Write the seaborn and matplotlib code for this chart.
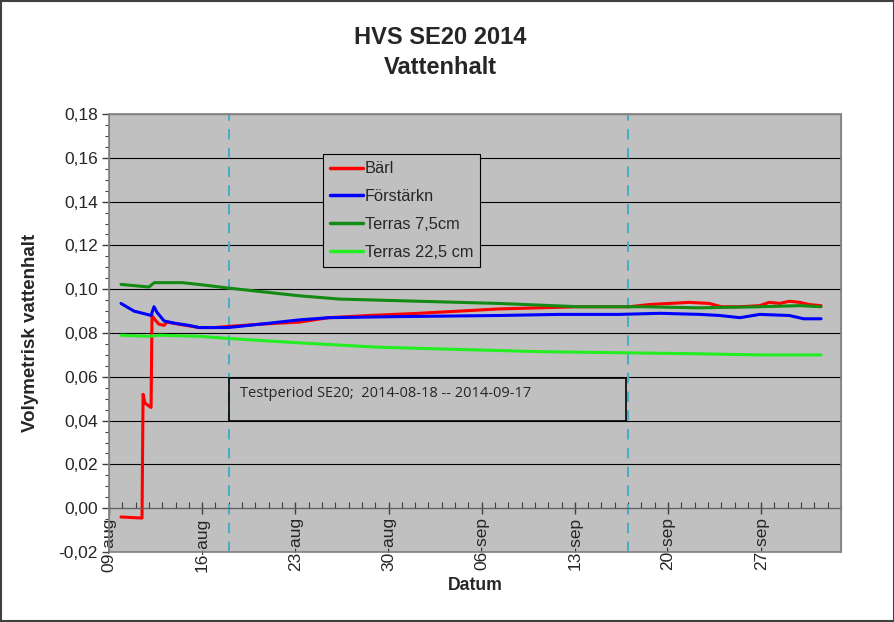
import numpy as np
import pandas as pd
import matplotlib
matplotlib.use("Agg")
import matplotlib.pyplot as plt
import matplotlib.dates as mdates
from matplotlib.patches import Rectangle
import seaborn as sns

# ---------- data (days after 2014-08-09, volumetric water content) ----------
START = pd.Timestamp("2014-08-09")

barl_days = [0.9, 2.48, 2.56, 2.7, 3.16, 3.23, 3.46, 3.76, 4.14, 4.36, 5.26, 6.77, 7.9,
             8.95, 11.3, 14.3, 16.5, 19.5, 23.3, 26.3, 29.3, 32.3, 35.3, 39.1, 40.6,
             43.6, 45.1, 46.0, 47.4, 48.9, 49.6, 50.4, 51.1, 51.9, 52.6, 53.5]
barl_vals = [-0.004, -0.0045, 0.052, 0.048, 0.046, 0.088, 0.086, 0.084, 0.0835, 0.085,
             0.084, 0.0825, 0.0825, 0.083, 0.084, 0.085, 0.087, 0.088, 0.089, 0.090,
             0.091, 0.0915, 0.092, 0.092, 0.093, 0.094, 0.0935, 0.092, 0.092, 0.0925,
             0.094, 0.0935, 0.0945, 0.094, 0.093, 0.0925]

forst_days = [0.9, 1.88, 2.86, 3.16, 3.38, 3.6, 4.14, 4.9, 6.0, 6.77, 8.95, 11.3, 14.3,
              16.5, 21.8, 29.3, 33.8, 38.3, 41.4, 44.4, 45.9, 47.4, 48.9, 51.1, 52.2, 53.5]
forst_vals = [0.0935, 0.090, 0.0885, 0.088, 0.092, 0.0895, 0.0855, 0.0845, 0.0835, 0.0825,
              0.0825, 0.084, 0.086, 0.087, 0.0875, 0.088, 0.0885, 0.0885, 0.089, 0.0885,
              0.088, 0.087, 0.0885, 0.088, 0.0865, 0.0865]

t75_days = [0.9, 3.0, 3.4, 5.5, 7.0, 9.0, 14.3, 17.3, 23.3, 29.3, 35.3, 40.0, 44.4,
            48.9, 51.9, 53.5]
t75_vals = [0.1022, 0.101, 0.103, 0.103, 0.102, 0.1005, 0.097, 0.0955, 0.0945, 0.0935,
            0.092, 0.092, 0.0915, 0.092, 0.0925, 0.092]

t225_days = [0.9, 3.0, 3.8, 6.8, 9.0, 14.3, 20.3, 26.3, 32.3, 38.3, 44.4, 48.9, 53.5]
t225_vals = [0.079, 0.0785, 0.079, 0.0785, 0.0775, 0.0755, 0.0735, 0.0725, 0.0715,
             0.071, 0.0705, 0.070, 0.070]

series_names = ["Bärl", "Förstärkn", "Terras 7,5cm", "Terras 22,5 cm"]
series_colors = ["#ff0000", "#0000ff", "#138a13", "#22ee22"]
series_data = [(barl_days, barl_vals), (forst_days, forst_vals),
               (t75_days, t75_vals), (t225_days, t225_vals)]

test_start = "2014-08-18"
test_end = "2014-09-17"

frames = []
for name, (d, v) in zip(series_names, series_data):
    frames.append(pd.DataFrame({
        "Datum": START + pd.to_timedelta(d, unit="D"),
        "value": v,
        "serie": name,
    }))
df = pd.concat(frames, ignore_index=True)

# ---------- plot ----------
sns.set_style("white")
plt.rcParams["font.family"] = ["Liberation Sans", "DejaVu Sans"]

fig = plt.figure(figsize=(8.95, 6.22), dpi=100)
ax = fig.add_axes([0.1218, 0.1125, 0.8179, 0.7042])
ax.set_facecolor("#c0c0c0")

sns.lineplot(data=df, x="Datum", y="value", hue="serie", hue_order=series_names,
             palette=series_colors, estimator=None, sort=False, linewidth=2.2, ax=ax)

ax.set_xlim(START, START + pd.Timedelta(days=55))
ax.set_ylim(-0.02, 0.18)

# axes / ticks
ax.yaxis.set_major_locator(plt.MultipleLocator(0.02))
ax.yaxis.set_minor_locator(plt.MultipleLocator(0.005))
ax.yaxis.set_major_formatter(plt.FuncFormatter(lambda v, p: f"{v:.2f}".replace(".", ",")))
ax.xaxis.set_major_locator(mdates.WeekdayLocator(byweekday=mdates.SA))
ax.xaxis.set_minor_locator(mdates.DayLocator())
ax.xaxis.set_major_formatter(plt.FuncFormatter(
    lambda v, p: mdates.num2date(v).strftime("%d-%b").lower()))
ax.tick_params(axis="y", which="major", direction="out", length=5, width=1,
               color="#404040", labelsize=12.5, left=True, pad=3)
ax.tick_params(axis="y", which="minor", direction="out", length=3, width=0.8,
               color="#404040", left=True)
ax.tick_params(axis="x", which="major", direction="inout", length=9, width=1,
               color="#404040", labelsize=12.5, labelrotation=90, bottom=True, pad=2)
ax.tick_params(axis="x", which="minor", direction="in", length=4, width=0.8,
               color="#404040", bottom=True)

ax.grid(axis="y", which="major", color="black", linewidth=0.8)
ax.set_axisbelow(True)
ax.spines["bottom"].set_position(("data", 0))
ax.spines["bottom"].set_color("#606060")
for s in ["left", "top", "right"]:
    ax.spines[s].set_color("#808080")
ax.add_patch(Rectangle((0, 0), 1, 1, transform=ax.transAxes, fill=False,
                       edgecolor="#808080", linewidth=1.2, clip_on=False, zorder=5))

# test period
for d in [test_start, test_end]:
    ax.axvline(pd.Timestamp(d), color="#4bacc6", linestyle=(0, (5, 4)), linewidth=1.5, zorder=1)
ax.add_patch(Rectangle((mdates.date2num(pd.Timestamp(test_start)), 0.04),
                       mdates.date2num(pd.Timestamp("2014-09-16 20:00")) - mdates.date2num(pd.Timestamp(test_start)),
                       0.0193, fill=False, edgecolor="black", linewidth=1.2, zorder=3))
ax.text(pd.Timestamp("2014-08-18 20:00"), 0.0525, "Testperiod SE20;  2014-08-18 -- 2014-09-17",
        fontsize=10.5, family=["Open Sans", "DejaVu Sans"], va="center", ha="left", zorder=4)

ax.set_xlabel("Datum", fontsize=12.7, fontweight="bold", labelpad=4)
ax.set_ylabel("Volymetrisk vattenhalt", fontsize=13.5, fontweight="bold", labelpad=14)

leg = ax.legend(loc="upper left", bbox_to_anchor=(0.292, 0.909), fontsize=11.8,
                frameon=True, fancybox=False, handlelength=2.0, handletextpad=0.1,
                borderpad=0.45, labelspacing=0.78, borderaxespad=0)
leg.get_frame().set_facecolor("#c0c0c0")
leg.get_frame().set_edgecolor("black")
leg.get_frame().set_alpha(1)
leg.get_frame().set_linewidth(0.8)
for h in leg.get_lines():
    h.set_linewidth(2.5)

fig.text(440 / 895, 1 - 38 / 622, "HVS SE20 2014", ha="center", va="center",
         fontsize=17, fontweight="bold")
fig.text(440 / 895, 1 - 67 / 622, "Vattenhalt", ha="center", va="center",
         fontsize=17, fontweight="bold")

fig.patches.append(Rectangle((0.001, 0.001), 0.998, 0.998, transform=fig.transFigure,
                             fill=False, edgecolor="#404040", linewidth=1.5))

fig.savefig("out.png", dpi=100)
plt.close(fig)
